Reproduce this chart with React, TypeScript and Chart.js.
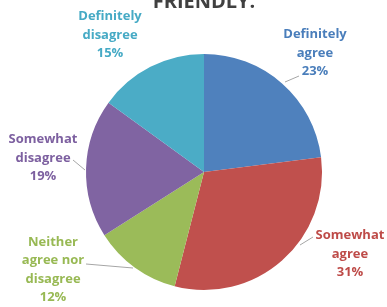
import React, { useEffect, useRef } from "react";
import { Chart, registerables } from "chart.js";

Chart.register(...registerables);

const categories = [
  "Definitely agree",
  "Somewhat agree",
  "Neither agree nor disagree",
  "Somewhat disagree",
  "Definitely disagree",
];
const values = [23, 31, 12, 19, 15];
const labelLines = [
  ["Definitely", "agree", "23%"],
  ["Somewhat", "agree", "31%"],
  ["Neither", "agree nor", "disagree", "12%"],
  ["Somewhat", "disagree", "19%"],
  ["Definitely", "disagree", "15%"],
];
const titleText = "FRIENDLY.";

const sliceColors = ["#4F81BD", "#C0504D", "#9BBB59", "#8064A2", "#4BACC6"];
const textColors = ["#4A7EBB", "#BE4B48", "#98B954", "#7D60A0", "#46AAC5"];
// label block centre offsets from pie centre, and leader line endpoints (offsets from centre)
const labelPos = [
  [111, -119],
  [146, 82],
  [-151, 98],
  [-161, -14],
  [-94, -137],
];
const leaders: (number[] | null)[] = [
  [81, -90, 95, -96],
  [96, 73, 109, 65],
  [-71, 96, -118, 92],
  [-119, -2, -131, -12],
  null,
];

const labelPlugin = {
  id: "pieLabels",
  afterDraw(chart: any) {
    const ctx = chart.ctx;
    const meta = chart.getDatasetMeta(0);
    const arc = meta.data[0];
    const cx = arc.x;
    const cy = arc.y;
    ctx.save();
    // title (cut off at top)
    ctx.font = "bold 20px 'Open Sans'";
    ctx.fillStyle = "#404040";
    ctx.textAlign = "center";
    ctx.textBaseline = "alphabetic";
    ctx.fillText(titleText, cx, 8);

    ctx.font = "bold 13px 'Open Sans'";
    const lh = 18.5;
    labelLines.forEach((lines, i) => {
      const lead = leaders[i];
      if (lead) {
        ctx.strokeStyle = "#A6A6A6";
        ctx.lineWidth = 1;
        ctx.beginPath();
        ctx.moveTo(cx + lead[0], cy + lead[1]);
        ctx.lineTo(cx + lead[2], cy + lead[3]);
        ctx.stroke();
      }
      ctx.fillStyle = textColors[i];
      ctx.textBaseline = "middle";
      const bx = cx + labelPos[i][0];
      const by = cy + labelPos[i][1];
      const top = by - ((lines.length - 1) * lh) / 2;
      lines.forEach((t, j) => ctx.fillText(t, bx, top + j * lh));
    });
    ctx.restore();
  },
};

export default function App() {
  const ref = useRef<HTMLCanvasElement>(null);
  useEffect(() => {
    document.body.style.margin = "0";
    const chart = new Chart(ref.current!, {
      type: "pie",
      data: {
        labels: categories,
        datasets: [
          {
            data: values,
            backgroundColor: sliceColors,
            borderWidth: 0,
          },
        ],
      },
      options: {
        responsive: false,
        animation: false,
        layout: { padding: { top: 54, bottom: 17, left: 86, right: 65 } },
        plugins: {
          legend: { display: false },
          tooltip: { enabled: false },
          title: { display: false },
        },
      },
      plugins: [labelPlugin],
    });
    return () => chart.destroy();
  }, []);
  return (
    <div style={{ width: 387, height: 307, background: "#fff" }}>
      <canvas ref={ref} width={387} height={307} />
    </div>
  );
}
